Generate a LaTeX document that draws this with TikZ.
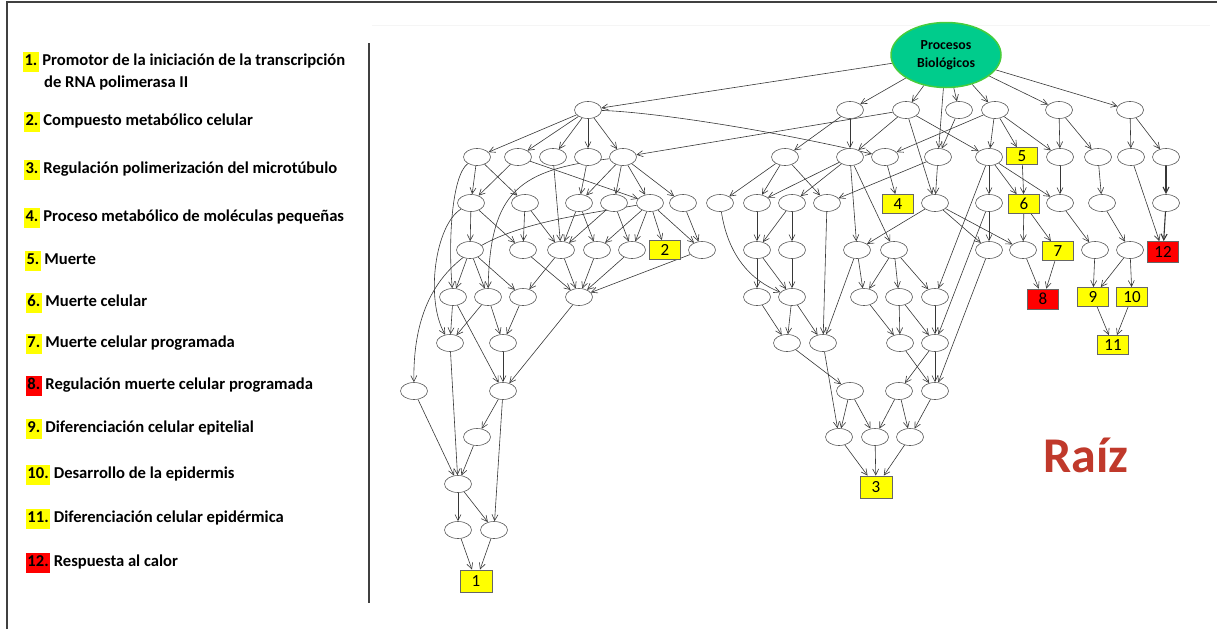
\documentclass[tikz,border=0pt]{standalone}
\usepackage{fontspec}
\setmainfont{Carlito}
\usetikzlibrary{arrows.meta,shapes.geometric,backgrounds}

\definecolor{hlyellow}{RGB}{255,255,0}
\definecolor{hlred}{RGB}{255,0,0}
\definecolor{rootfill}{RGB}{0,204,140}
\definecolor{rootline}{RGB}{70,205,60}
\definecolor{raizred}{RGB}{192,57,43}
\definecolor{edgegray}{RGB}{55,55,55}
\definecolor{framegray}{RGB}{64,64,64}

% highlighted item number in the legend
\newcommand{\hlnum}[2]{{\setlength{\fboxsep}{1.3pt}\colorbox{#1}{\strut#2}}}

\tikzset{
  gn/.style={ellipse, draw=black!65, line width=0.6pt, fill=white,
             minimum width=27pt, minimum height=17pt, inner sep=0pt},
  gbox/.style={rectangle, draw=black!60, line width=0.8pt,
               minimum width=31pt, minimum height=19pt, inner sep=0pt,
               font=\fontsize{17}{17}\selectfont},
  ybox/.style={gbox, fill=hlyellow},
  rbox/.style={gbox, fill=hlred},
  edge/.style={draw=edgegray, line width=0.6pt,
               -{Straight Barb[length=6pt,width=6pt]}},
  thickedge/.style={edge, line width=1.1pt},
  legend/.style={anchor=west, inner sep=0pt,
                 font=\fontsize{16.6}{17}\selectfont\bfseries},
}

\begin{document}
\begin{tikzpicture}[x=1pt,y=-1pt]
\useasboundingbox (0,0) rectangle (1217,629);

% page frame and separator
\draw[framegray, line width=1.5pt] (7,629) -- (7,2) -- (1217,2);
\draw[black!4, line width=0.6pt] (372,25) -- (1210,25);
\draw[framegray, line width=2pt] (369,43) -- (369,603);

% legend
\node[legend] (k1)  at (23,62)  {\hlnum{hlyellow}{1.} Promotor de la iniciación de la transcripción};
\node[legend] (k1b) at (44,83)  {de RNA polimerasa II};
\node[legend] (k2)  at (24,122) {\hlnum{hlyellow}{2.} Compuesto metabólico celular};
\node[legend] (k3)  at (24,170) {\hlnum{hlyellow}{3.} Regulación polimerización del microtúbulo};
\node[legend] (k4)  at (24,218) {\hlnum{hlyellow}{4.} Proceso metabólico de moléculas pequeñas};
\node[legend] (k5)  at (25,261) {\hlnum{hlyellow}{5.} Muerte};
\node[legend] (k6)  at (26,303) {\hlnum{hlyellow}{6.} Muerte celular};
\node[legend] (k7)  at (26,344) {\hlnum{hlyellow}{7.} Muerte celular programada};
\node[legend] (k8)  at (26,386) {\hlnum{hlred}{8.} Regulación muerte celular programada};
\node[legend] (k9)  at (26,429) {\hlnum{hlyellow}{9.} Diferenciación celular epitelial};
\node[legend] (k10) at (26,475) {\hlnum{hlyellow}{10.} Desarrollo de la epidermis};
\node[legend] (k11) at (26,519) {\hlnum{hlyellow}{11.} Diferenciación celular epidérmica};
\node[legend] (k12) at (26,563) {\hlnum{hlred}{12.} Respuesta al calor};

% root of the graph
\node[ellipse, fill=rootfill, draw=rootline, line width=1.5pt,
      minimum width=110pt, minimum height=65pt, align=center,
      font=\fontsize{13.8}{18}\selectfont\bfseries] (root) at (946,55) {Procesos\\Biológicos};

% term nodes
\foreach \n/\x/\y in {
  L1/588/110,
  a1/477/157, a2/518/157, a3/553/157, a4/588/157, a5/623/157,
  b1/471/203, b2/525/203, b3/579/203, b4/614/203, b5/650/203, b6/683/203, b7/720/203,
  c1/470/250, c2/523/250, c3/561/250, c4/597/250, c5/632/250, c7/702/250,
  d1/453/297, d2/488/297, d3/523/297, d4/579/297,
  e1/450/343, e2/503/343,
  f1/414/391, f2/503/391,
  g1/477/437, h1/458/484, i1/458/530, i2/494/530,
  p1/850/110, p2/906/110, p3/959/110, p4/995/110, p5/1059/110, p6/1130/110,
  q1/785/157, q2/850/157, q3/885/157, q4/938/157, q5/989/157,
  q7/1060/157, q8/1098/157, q9/1131/157, q10/1166/157,
  r2/757/203, r3/792/203, r4/827/203, r6/935/203, r7/989/203,
  r9/1060/203, r10/1102/203, r11/1166/203,
  s2/757/250, s3/792/250, s4/857/250, s5/894/250, s6/989/250, s7/1023/250,
  s9/1095/250, s10/1130/250,
  t1/757/297, t2/792/297, t3/864/297, t4/899/297, t5/935/297,
  u1/787/343, u2/823/343, u3/900/343, u4/935/343,
  v1/850/391, v2/899/391, v3/935/391,
  w1/839/437, w2/875/437, w3/910/437}
  \node[gn] (\n) at (\x,\y) {};

% highlighted terms
\node[ybox, minimum width=32pt, minimum height=22pt] (n1) at (476,581) {1};
\node[ybox] (n2)  at (665,250) {2};
\node[ybox, minimum width=32pt, minimum height=22pt] (n3) at (876,487) {3};
\node[ybox] (n4)  at (898,204) {4};
\node[ybox, minimum height=17pt] (n5) at (1022,156) {5};
\node[ybox] (n6)  at (1024,204) {6};
\node[ybox] (n7)  at (1058,251) {7};
\node[rbox, minimum height=20pt] (n8) at (1043,299) {8};
\node[ybox] (n9)  at (1093,297) {9};
\node[ybox] (n10) at (1132,297) {10};
\node[ybox] (n11) at (1113,345) {11};
\node[rbox, minimum height=21pt] (n12) at (1163,252) {12};

\node[font=\fontsize{50}{50}\selectfont\bfseries, text=raizred] (raiz) at (1086,455) {Raíz};

\begin{scope}[on background layer]
% straight edges
\foreach \s/\t in {
  root/L1, root/p1, root/p2, root/p3, root/p4, root/p5, root/p6, root/q4,
  L1/a1, L1/a2, L1/a3, L1/a4, L1/a5,
  a1/b1, a1/b2, a2/b1, a2/b5, a3/c3, a4/b3,
  a5/b3, a5/b4, a5/b5, a5/b6,
  b1/c1, b1/c2, b2/c2, b2/c3, b3/c3, b3/c4, b4/c3, b4/c5,
  b5/c4, b5/c5, b5/n2, b5/c7, b6/c7,
  c1/d1, c1/d2, c1/d3, c2/d4, c3/d3, c3/d4, c4/d4, c5/d4, c7/d4,
  d1/e1, d1/f2, d2/e1, d2/e2, d3/e2, d4/f2,
  e1/h1, e2/f2, f1/h1, f2/g1, f2/i2, g1/h1,
  h1/i1, h1/i2, i1/n1, i2/n1,
  p1/q1, p1/q2, p2/a5, p2/q2, p2/q5, p2/r6, p3/q4,
  p4/q3, p4/q5, p4/n5, p4/q7, p5/q7, p5/q8, p6/q9, p6/q10,
  q1/b7, q1/r2, q1/r4, q2/r2, q2/r3, q2/s4, q2/s5,
  q3/n4, q4/r4, q4/r6, q5/r7, q5/n6, q5/r9, q5/t5,
  n5/n6, q7/r9, q8/r10, q9/n12,
  r2/s2, r3/s2, r3/s3, r4/u2, r6/s4, r6/s6, r6/s7, r7/s6, r7/u4,
  n6/s7, n6/n7, r9/s9, r10/s10,
  s2/t1, s2/t2, s3/t2, s4/t3, s4/u2, s5/t3, s5/t4, s5/t5,
  s6/v3, s7/n8, n7/n8, s9/n9, s10/n9, s10/n10, n9/n11, n10/n11,
  t1/u1, t2/u1, t2/u2, t3/u3, t4/u3, t4/u4, t5/u4,
  u1/v1, u2/w1, u3/v3, u4/v2, u4/v3,
  v1/w1, v1/w2, v2/w2, v2/w3, v3/w3,
  w1/n3, w2/n3, w3/n3}
  \draw[edge] (\s) -- (\t);
\draw[thickedge] (q10) -- (r11);
\draw[thickedge] (r11) -- (n12);
% curved edges
\draw[edge] (a1) .. controls (452,175) and (448,240) .. (d1);
\draw[edge] (b1) .. controls (435,225) and (425,300) .. (e1);
\draw[edge] (b5) .. controls (520,225) and (412,235) .. (f1);
\draw[edge] (a5) .. controls (520,170) and (490,190) .. (d2);
\draw[edge] (b7) .. controls (728,255) and (750,280) .. (t2);
\draw[edge] (L1) .. controls (650,112) and (760,128) .. (q3);
\end{scope}
\end{tikzpicture}
\end{document}
